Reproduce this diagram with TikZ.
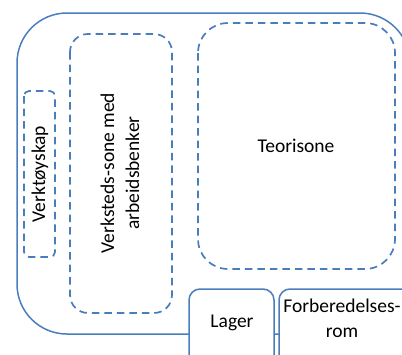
\documentclass[tikz,border=0pt]{standalone}
\usepackage{fontspec}
\setmainfont{Carlito}
\definecolor{zoneblue}{HTML}{4A7EBB}
\begin{document}
\begin{tikzpicture}[x=1pt,y=-1pt,
  zone/.style={draw=zoneblue, line width=1.7pt, dash pattern=on 7.5pt off 5pt, fill=white},
  room/.style={draw=zoneblue, line width=1.5pt, fill=white},
  lbl/.style={font=\fontsize{19.5}{25}\selectfont, align=center, inner sep=0pt}]
\useasboundingbox (0,0) rectangle (402,354);
\begin{scope}
\clip (0,0) rectangle (402,354);
\draw[draw=zoneblue, line width=1.5pt, rounded corners=50pt] (17,13) rectangle (410,334);
\draw[zone, rounded corners=5pt] (24,91) rectangle (55,257);
\draw[zone, rounded corners=18pt] (70,34) rectangle (172,313);
\draw[zone, rounded corners=30pt] (198,23) rectangle (395,269);
\draw[room, rounded corners=11pt] (189,289) rectangle (274,370);
\draw[room, rounded corners=11pt] (279,289) rectangle (420,370);
\end{scope}
\node[lbl, rotate=90] (vs) at (40,174) {Verktøyskap};
\node[lbl, rotate=90] (vz) at (120,173) {Verksteds-sone med\\arbeidsbenker};
\node[lbl] (ts) at (296,146) {Teorisone};
\node[lbl] (lg) at (232,323) {Lager};
\node[lbl] (fb) at (342,318) {Forberedelses-\\rom};
\end{tikzpicture}
\end{document}
